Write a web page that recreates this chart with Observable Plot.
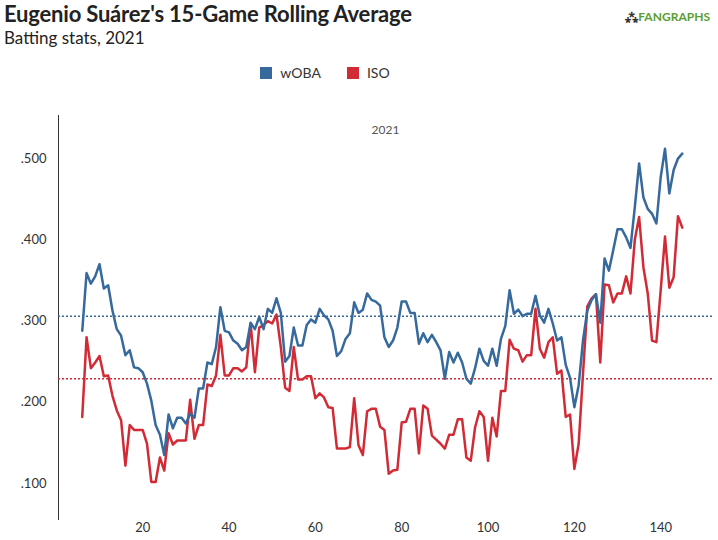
<!DOCTYPE html>
<html><head><meta charset="utf-8">
<script src="https://cdn.jsdelivr.net/npm/d3@7"></script>
<script src="https://cdn.jsdelivr.net/npm/@observablehq/plot@0.6"></script>
<style>
body{margin:0;background:#fff;font-family:Lato,"Open Sans",sans-serif;}
#wrap{position:relative;width:718px;height:540px;overflow:hidden;}
#title{position:absolute;left:4px;top:0px;font-size:22px;font-weight:bold;color:#222;letter-spacing:-0.2px;}
#sub{position:absolute;left:4px;top:27px;font-size:17px;color:#222;}
#logo{position:absolute;right:8px;top:8px;font-size:12px;font-weight:bold;color:#5a9e2f;}
#logo span{color:#333}
#legend{position:absolute;left:-34px;width:718px;top:64px;text-align:center;font-size:14px;color:#333;}
.sw{display:inline-block;width:12px;height:12px;margin-right:8px;vertical-align:-1px;}
#chart{position:absolute;left:0;top:100px;}
</style></head>
<body><div id="wrap">
<div id="title">Eugenio Suárez's 15-Game Rolling Average</div>
<div id="sub">Batting stats, 2021</div>
<div id="logo"><span>⁂</span>FAN<span style="color:#5a9e2f">GRAPHS</span></div>
<div id="legend"><span class="sw" style="background:#36699c"></span>wOBA<span style="display:inline-block;width:26px"></span><span class="sw" style="background:#d22b36"></span>ISO</div>
<div id="chart"></div>
</div>
<script>
const games = d3.range(6, 146);
const woba = [.288,.359,.346,.355,.370,.340,.344,.313,.290,.282,.258,.264,.243,.242,.237,.223,.202,.172,.160,.135,
.185,.168,.181,.181,.174,.186,.181,.217,.217,.249,.247,.268,.317,.288,.286,.276,.272,.264,.268,.298,
.290,.305,.290,.315,.310,.328,.310,.250,.257,.292,.270,.270,.295,.302,.298,.315,.307,.302,.288,.257,
.263,.278,.285,.323,.310,.314,.334,.326,.324,.319,.280,.268,.276,.292,.324,.324,.310,.310,.272,.285,
.274,.283,.274,.264,.229,.262,.249,.261,.249,.229,.223,.242,.266,.251,.245,.266,.245,.278,.294,.338,
.309,.314,.306,.309,.309,.331,.307,.298,.315,.297,.276,.280,.246,.230,.194,.221,.276,.313,.326,.333,
.298,.377,.362,.387,.413,.413,.403,.390,.440,.494,.452,.438,.432,.420,.477,.512,.457,.486,.500,.506];
const iso = [.182,.280,.242,.249,.257,.232,.233,.208,.190,.178,.122,.172,.166,.166,.166,.149,.102,.102,.132,.116,
.162,.148,.153,.153,.153,.203,.155,.172,.172,.222,.220,.233,.283,.233,.233,.242,.242,.238,.243,.297,
.237,.292,.295,.300,.297,.308,.268,.218,.214,.268,.228,.228,.232,.232,.205,.211,.206,.194,.193,.143,
.143,.143,.145,.205,.147,.135,.189,.192,.192,.170,.166,.112,.116,.117,.175,.176,.192,.192,.137,.196,
.192,.159,.154,.149,.143,.160,.160,.179,.179,.132,.128,.169,.189,.182,.128,.181,.158,.214,.214,.277,
.266,.264,.250,.258,.258,.315,.266,.255,.274,.280,.235,.239,.182,.185,.118,.149,.235,.318,.328,.333,
.249,.345,.344,.323,.334,.334,.355,.334,.400,.428,.366,.334,.276,.274,.338,.404,.341,.354,.429,.415];
const wobaAvg = .306, isoAvg = .229;
const yTicks = [.1,.2,.3,.4,.5];
const xTicks = [20,40,60,80,100,120,140];
const blue = "#36699c", red = "#d22b36";
const data = games.map((g,i)=>({g, woba: woba[i], iso: iso[i]}));
const plot = Plot.plot({
  width: 718, height: 440,
  marginLeft: 58, marginRight: 6, marginTop: 15, marginBottom: 20,
  style: {fontFamily: "Lato, sans-serif", fontSize: "13px", color: "#333"},
  x: {domain: [0.5, 152]},
  y: {domain: [0.0545, 0.553]},
  marks: [
    Plot.ruleX([0.5], {stroke: "#333"}),
    Plot.axisX({ticks: xTicks, tickSize: 0, tickPadding: 2, label: null, fontSize: 13}),
    Plot.axisY({ticks: yTicks, tickSize: 0, tickPadding: 12, label: null, tickFormat: d => d3.format(".3f")(d).replace(/^0/, ""), fontSize: 13}),
    Plot.text(["2021"], {frameAnchor: "top", dy: 10, fill: "#555", fontSize: 12}),
    Plot.ruleY([wobaAvg], {stroke: blue, strokeDasharray: "2,2", strokeWidth: 1.5}),
    Plot.ruleY([isoAvg], {stroke: red, strokeDasharray: "2,2", strokeWidth: 1.5}),
    Plot.line(data, {x: "g", y: "iso", stroke: red, strokeWidth: 2.5}),
    Plot.line(data, {x: "g", y: "woba", stroke: blue, strokeWidth: 2.5})
  ]
});
document.getElementById("chart").appendChild(plot);
</script></body></html>
